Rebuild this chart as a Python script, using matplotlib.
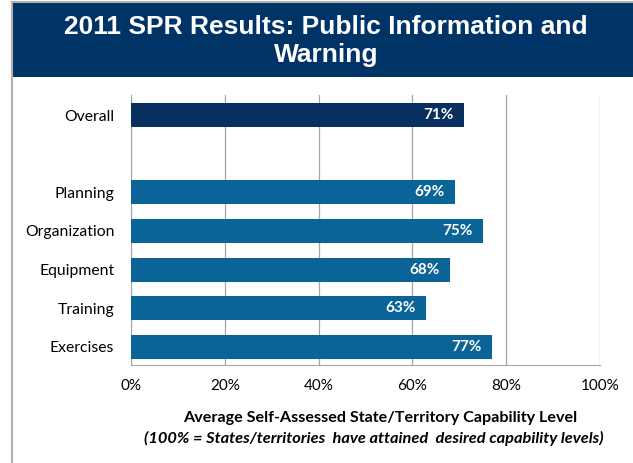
import matplotlib
matplotlib.use("Agg")
import matplotlib.pyplot as plt
from matplotlib.patches import Rectangle
from matplotlib.lines import Line2D

categories = ["Overall", "", "Planning", "Organization", "Equipment", "Training", "Exercises"]
values = [71, None, 69, 75, 68, 63, 77]
tick_values = [0, 20, 40, 60, 80, 100]
tick_labels = ["0%", "20%", "40%", "60%", "80%", "100%"]
title = "2011 SPR Results: Public Information and\nWarning"
xlabel1 = "Average Self-Assessed State/Territory Capability Level"
xlabel2 = "(100% = States/territories  have attained  desired capability levels)"

navy = "#003366"
overall_col = "#082f5d"
bar_col = "#0a6498"
grid_col = "#a6a6a6"

fig = plt.figure(figsize=(6.33, 4.63), dpi=100)
fig.patch.set_facecolor("white")

# banner
fig.patches.append(Rectangle((13/633, 1 - 77/463), 1 - 13/633, 74/463,
                             transform=fig.transFigure, facecolor=navy, edgecolor="none"))
fig.lines.append(Line2D([12/633, 12/633], [0, 1 - 2/463], transform=fig.transFigure, color="#b0b0b0", lw=1.5))
fig.lines.append(Line2D([12/633, 1], [1 - 2/463, 1 - 2/463], transform=fig.transFigure, color="#b0b0b0", lw=1.5))
fig.text(326/633, 1 - 41/463, title, ha="center", va="center", color="white",
         fontsize=19, fontweight="bold", family="Liberation Sans", linespacing=1.25)

ax = fig.add_axes([131/633, (463 - 365)/463, (600 - 131)/633, (365 - 95)/463])
ypos = list(range(len(categories)))
for y, v in zip(ypos, values):
    if v is None:
        continue
    c = overall_col if y == 0 else bar_col
    ax.barh(y, v, height=0.62, color=c, zorder=3)
    ax.text(v - 2.2, y, f"{v}%", ha="right", va="center", color="white",
            fontsize=11, fontweight="bold", family="Lato", zorder=4)

ax.set_xlim(0, 100)
ax.set_ylim(6.47, -0.52)
ax.set_xticks(tick_values)
ax.set_xticklabels(tick_labels, family="Lato", fontsize=11)
ax.set_yticks(ypos)
ax.set_yticklabels(categories, family="Lato", fontsize=11.3)
ax.tick_params(axis="y", length=0, pad=12)
ax.tick_params(axis="x", length=0, pad=10)
ax.grid(axis="x", color=grid_col, lw=0.9, zorder=0)
for s in ["top", "right"]:
    ax.spines[s].set_visible(False)
ax.spines["left"].set_color(grid_col)
ax.spines["bottom"].set_color(grid_col)

fig.text(380/633, 1 - 418/463, xlabel1, ha="center", va="center", fontsize=11.6,
         fontweight="bold", family="Lato")
fig.text(374/633, 1 - 438/463, xlabel2, ha="center", va="center", fontsize=11.8,
         fontweight="bold", style="italic", family="Lato")

fig.savefig("out.png", dpi=100)
